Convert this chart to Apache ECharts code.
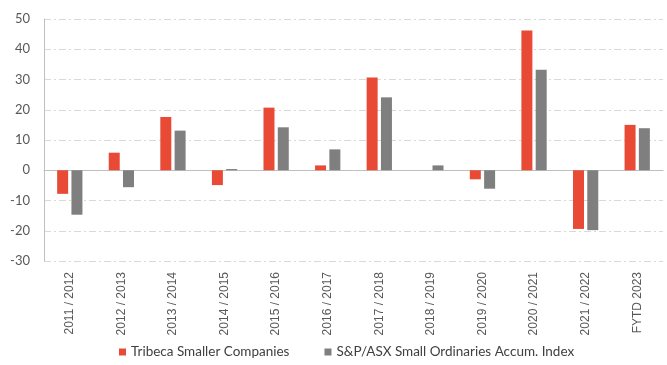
<!DOCTYPE html>
<html>
<head>
<meta charset="utf-8">
<script src="https://cdn.jsdelivr.net/npm/echarts@6/dist/echarts.min.js"></script>
<style>html,body{margin:0;padding:0;background:#fff}#c{width:667px;height:365px}</style>
</head>
<body>
<div id="c"></div>
<script>
const categories = ["2011 / 2012","2012 / 2013","2013 / 2014","2014 / 2015","2015 / 2016","2016 / 2017","2017 / 2018","2018 / 2019","2019 / 2020","2020 / 2021","2021 / 2022","FYTD 2023"];
const tribeca = [-7.8, 5.8, 17.6, -4.9, 20.7, 1.6, 30.7, 0, -3.0, 46.2, -19.4, 15.0];
const smallOrds = [-14.7, -5.6, 13.1, 0.4, 14.2, 6.9, 24.1, 1.6, -6.1, 33.2, -19.8, 13.9];
const seriesNames = ["Tribeca Smaller Companies", "S&P/ASX Small Ordinaries Accum. Index"];

const chart = echarts.init(document.getElementById('c'), null, {renderer: 'canvas'});
chart.setOption({
  animation: false,
  grid: {left: 44, right: 4, top: 19, bottom: 104},
  legend: {
    bottom: 1, left: 114, itemWidth: 7, itemHeight: 7, itemGap: 35,
    icon: 'rect',
    textStyle: {fontFamily: 'Lato', fontSize: 13.5, color: '#404040'},
    data: seriesNames
  },
  xAxis: [{
    type: 'category', data: categories, position: 'bottom',
    axisLine: {show: false, onZero: false}, axisTick: {show: false},
    axisLabel: {rotate: 90, fontFamily: 'Liberation Sans', fontSize: 12, color: '#595959', margin: 11, interval: 0}
  }, {
    type: 'category', data: categories,
    axisLine: {show: true, onZero: true, lineStyle: {color: '#bfbfbf', width: 1}},
    axisTick: {show: false}, axisLabel: {show: false}
  }],
  yAxis: {
    type: 'value', min: -30, max: 50, interval: 10,
    axisLine: {show: true, lineStyle: {color: '#bfbfbf'}},
    axisTick: {show: false},
    axisLabel: {fontFamily: 'Lato', fontSize: 13, color: '#595959', margin: 14},
    splitLine: {lineStyle: {color: '#d9d9d9', type: [7, 3, 2, 3], width: 1}}
  },
  series: [{
    name: seriesNames[0], type: 'bar', data: tribeca, xAxisIndex: 0,
    itemStyle: {color: '#e84a36'}, barWidth: 11, barGap: '30%'
  }, {
    name: seriesNames[1], type: 'bar', data: smallOrds, xAxisIndex: 0,
    itemStyle: {color: '#7f7f7f'}, barWidth: 11, barGap: '30%'
  }]
});
</script>
</body>
</html>
